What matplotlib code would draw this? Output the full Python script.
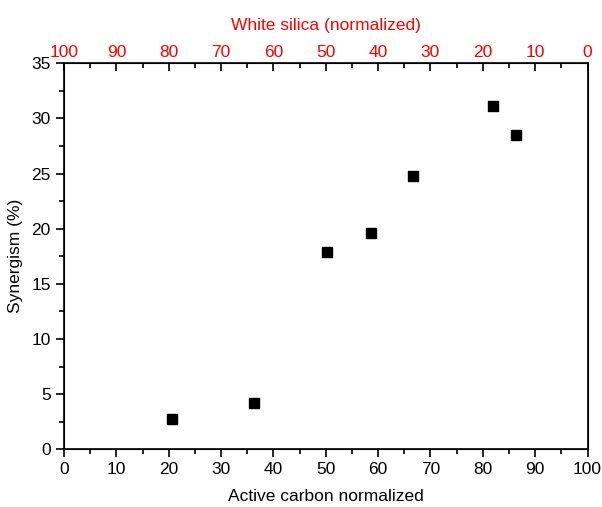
import matplotlib
matplotlib.use("Agg")
import matplotlib.pyplot as plt
from matplotlib.ticker import MultipleLocator

active_carbon = [20.6, 36.2, 50.2, 58.6, 66.6, 81.9, 86.3]
synergism = [2.75, 4.22, 17.86, 19.58, 24.8, 31.15, 28.5]
top_ticks = [0, 10, 20, 30, 40, 50, 60, 70, 80, 90, 100]
top_labels = [str(100 - t) for t in top_ticks]

plt.rcParams['font.family'] = ['Liberation Sans', 'DejaVu Sans']
fig = plt.figure(figsize=(6.02, 5.07), dpi=100)
ax = fig.add_axes([0.1063, 0.1138, 0.8697, 0.7614])
ax.scatter(active_carbon, synergism, marker='s', s=55, color='black', zorder=3)
ax.set_xlim(0, 100)
ax.set_ylim(0, 35)
ax.xaxis.set_major_locator(MultipleLocator(10))
ax.xaxis.set_minor_locator(MultipleLocator(5))
ax.yaxis.set_major_locator(MultipleLocator(5))
ax.yaxis.set_minor_locator(MultipleLocator(2.5))
ax.tick_params(axis='both', which='major', direction='out', length=6, width=1.2, labelsize=12.5)
ax.tick_params(axis='both', which='minor', direction='out', length=3.5, width=1.2)
ax.tick_params(axis='both', top=False, right=False, which='both')
for s in ax.spines.values():
    s.set_linewidth(1.2)
ax.set_xlabel('Active carbon normalized', fontsize=12.5, labelpad=8)
ax.set_ylabel('Synergism (%)', fontsize=12.5, labelpad=6)

ax2 = ax.twiny()
ax2.set_xlim(0, 100)
ax2.set_xticks(top_ticks)
ax2.set_xticklabels(top_labels, color='red', fontsize=12.5)
ax2.xaxis.set_minor_locator(MultipleLocator(5))
ax2.tick_params(axis='x', which='major', direction='in', length=6, width=1.2, pad=2.5)
ax2.tick_params(axis='x', which='minor', direction='in', length=3.5, width=1.2)
ax2.set_xlabel('White silica (normalized)', color='red', fontsize=12.5, labelpad=11)

fig.savefig('out.png', dpi=100)
